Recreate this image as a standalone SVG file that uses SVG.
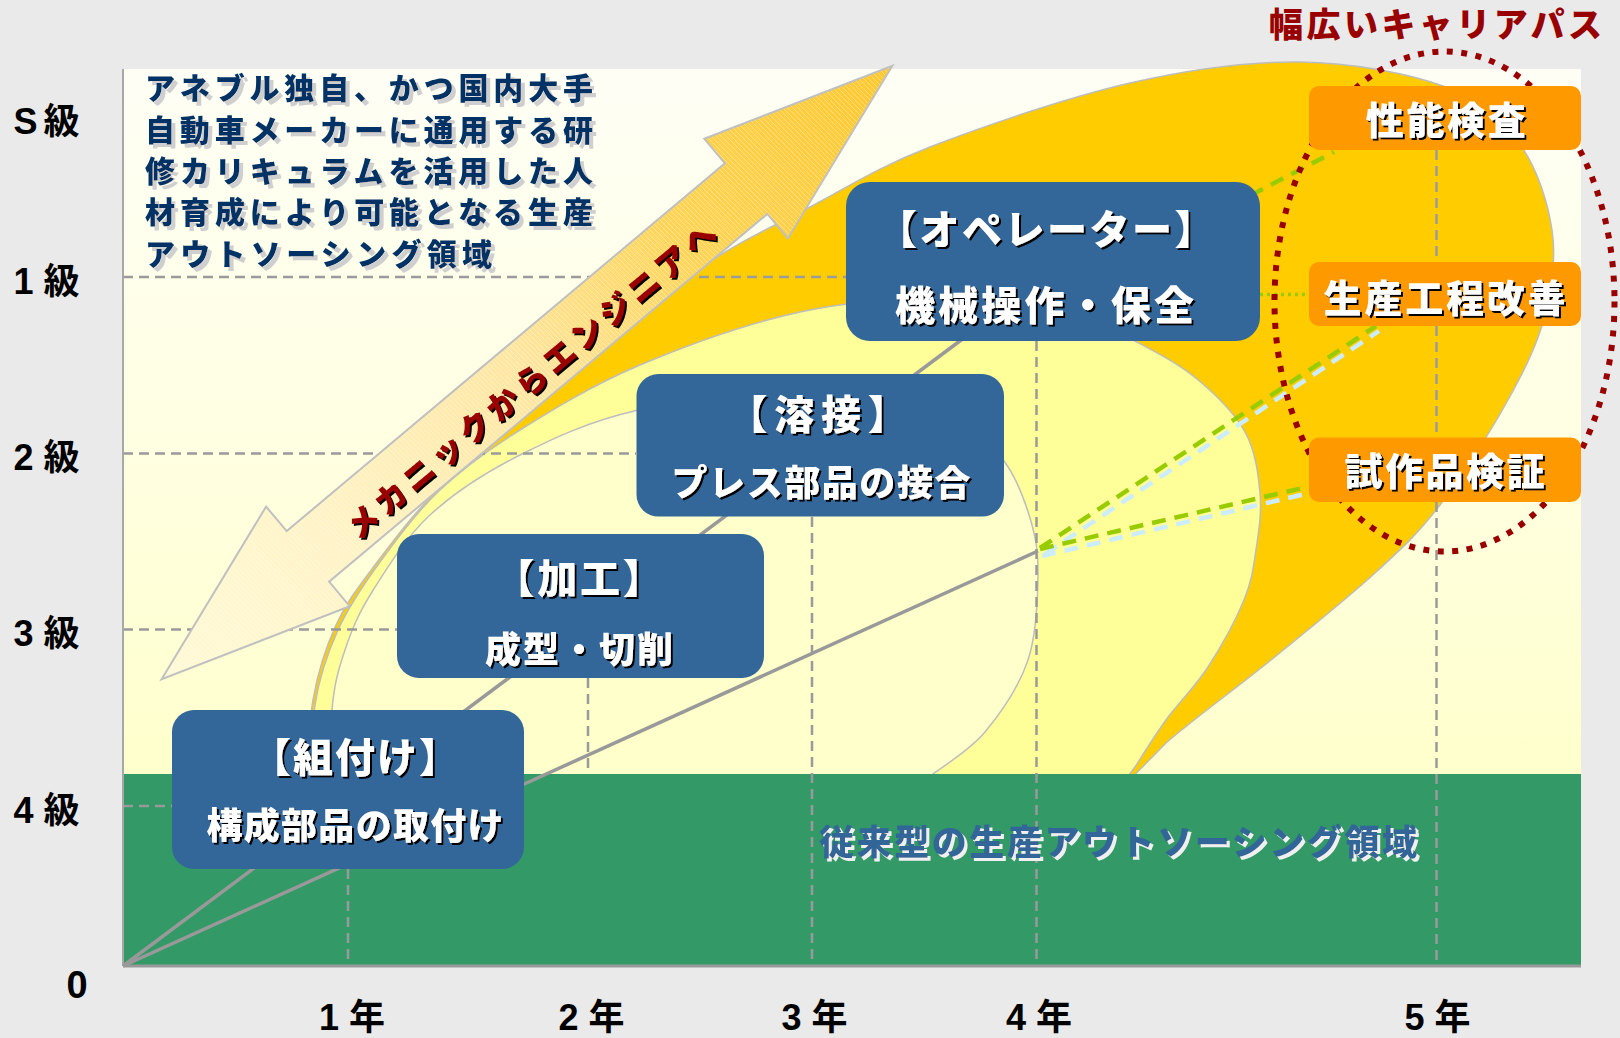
<svg xmlns="http://www.w3.org/2000/svg" width="1620" height="1038" viewBox="0 0 1620 1038">
<style>
.t{font-family:"Noto Sans CJK JP","Noto Sans CJK SC",sans-serif;font-weight:900}
.lat{font-family:"Liberation Sans","Noto Sans CJK JP",sans-serif;font-weight:700;fill:#000;text-anchor:middle}
.node rect{fill:#336699}
.nt{fill:#FFFFFF;text-anchor:middle}
.box rect{fill:#FF9900}
.grid{stroke:#9A9A9A;stroke-width:2.5;stroke-dasharray:10 6;fill:none}
.conn{stroke:#999999;stroke-width:3.5;fill:none}
.shape{stroke:#BDBDBD;stroke-width:1.5}
.fg{stroke:#99CC00;stroke-width:4.5;stroke-dasharray:14 9;fill:none}
.fb{stroke:#CCECFF;stroke-width:4.5;stroke-dasharray:14 9;fill:none}
.para{fill:#003366;font-size:30px}
</style>
<defs>
<linearGradient id="bgGrad" x1="0" y1="69" x2="0" y2="774" gradientUnits="userSpaceOnUse">
<stop offset="0" stop-color="#FEFEF5"/><stop offset="0.5" stop-color="#FFFFE3"/><stop offset="1" stop-color="#FFFFCC"/>
</linearGradient>
<linearGradient id="arrowGrad" x1="892" y1="66" x2="162" y2="679" gradientUnits="userSpaceOnUse">
<stop offset="0" stop-color="#FFC82E"/><stop offset="0.28" stop-color="#FFD455"/><stop offset="0.5" stop-color="#FFE6A0"/><stop offset="0.75" stop-color="#FFF3C4"/><stop offset="1" stop-color="#FFFAD6"/>
</linearGradient>
<pattern id="hatch" width="5" height="5" patternUnits="userSpaceOnUse">
<path d="M0,0 L5,5" stroke="#FFFFFF" stroke-width="0.8" stroke-opacity="0.45"/>
</pattern>
<filter id="shDark" x="-10%" y="-30%" width="120%" height="160%">
<feOffset in="SourceAlpha" dx="2" dy="2" result="o"/><feFlood flood-color="#000000"/><feComposite in2="o" operator="in" result="s"/>
<feMerge><feMergeNode in="s"/><feMergeNode in="SourceGraphic"/></feMerge>
</filter>
<filter id="shLight" x="-10%" y="-30%" width="120%" height="160%">
<feOffset in="SourceAlpha" dx="4" dy="4" result="o"/><feFlood flood-color="#CFCFCF"/><feComposite in2="o" operator="in" result="s"/>
<feMerge><feMergeNode in="s"/><feMergeNode in="SourceGraphic"/></feMerge>
</filter>
<filter id="shWhite" x="-10%" y="-30%" width="120%" height="160%">
<feOffset in="SourceAlpha" dx="3" dy="3" result="o"/><feFlood flood-color="#F0F0F0"/><feComposite in2="o" operator="in" result="s"/>
<feMerge><feMergeNode in="s"/><feMergeNode in="SourceGraphic"/></feMerge>
</filter>
</defs>

<rect x="0" y="0" width="1620" height="1038" fill="#EAEAEA"/>
<rect x="123" y="69" width="1458" height="897" fill="url(#bgGrad)"/>

<g id="regions">
<path class="shape" fill="#FFCC00" d="M306,800 C307.2,783.3 308,729.2 313,700 C318,670.8 325.7,647.5 336,625 C346.3,602.5 357.7,588 375,565 C392.3,542 409.2,518.7 440,487 C470.8,455.3 516.7,411.5 560,375 C603.3,338.5 658.3,296 700,268 C741.7,240 771.7,227.2 810,207 C848.3,186.8 876.7,167.7 930,147 C983.3,126.3 1068.3,97.2 1130,83 C1191.7,68.8 1247.3,61.3 1300,62 C1352.7,62.7 1409.5,73.5 1446,87 C1482.5,100.5 1501.3,119.2 1519,143 C1536.7,166.8 1547.7,201.3 1552,230 C1556.3,258.7 1552.3,286.7 1545,315 C1537.7,343.3 1525.5,368.3 1508,400 C1490.5,431.7 1462.2,476.2 1440,505 C1417.8,533.8 1403.2,547.2 1375,573 C1346.8,598.8 1305.8,631.7 1271,660 C1236.2,688.3 1192.8,719.7 1166,743 L1110,800 Z"/>
<path class="shape" fill="#FFFF99" d="M312,800 C312.5,784.2 310.7,733.3 315,705 C319.3,676.7 327.2,653.8 338,630 C348.8,606.2 363,585.3 380,562 C397,538.7 416.7,512 440,490 C463.3,468 486.7,450.8 520,430 C553.3,409.2 593.3,384.7 640,365 C686.7,345.3 748.3,323.2 800,312 C851.7,300.8 905,298 950,298 C995,298 1039.2,304.8 1070,312 C1100.8,319.2 1113.8,329.8 1135,341 C1156.2,352.2 1178.7,363.8 1197,379 C1215.3,394.2 1234.5,413 1245,432 C1255.5,451 1258.2,473.3 1260,493 C1261.8,512.7 1258.7,532.2 1256,550 C1253.3,567.8 1252,580.5 1244,600 C1236,619.5 1221,647 1208,667 C1195,687 1178.2,703.3 1166,720 C1153.8,736.7 1140.2,759.2 1135,767 L1110,800 Z"/>
<path class="shape" fill="#FFFFCC" d="M333,800 C332.8,785 330,735 332,710 C334,685 338.3,669.7 345,650 C351.7,630.3 357.8,614.5 372,592 C386.2,569.5 405.3,537.8 430,515 C454.7,492.2 485.3,472.5 520,455 C554.7,437.5 588,421.7 638,410 C688,398.3 768,385 820,385 C872,385 919.3,397.3 950,410 C980.7,422.7 990.7,443 1004,461 C1017.3,479 1024.3,499 1030,518 C1035.7,537 1038.3,551.3 1038,575 C1037.7,598.7 1036.8,633.8 1028,660 C1019.2,686.2 1000.8,713 985,732 C969.2,751 941.7,767 933,774 L905,800 Z"/>
<rect x="123" y="774" width="1458" height="192" fill="#339966"/>
</g>

<g id="grid">
<line class="grid" x1="123" y1="277" x2="846" y2="277"/>
<line class="grid" x1="123" y1="453.5" x2="636" y2="453.5"/>
<line class="grid" x1="123" y1="629.5" x2="397" y2="629.5"/>
<line class="grid" x1="123" y1="806" x2="172" y2="806"/>
<line class="grid" x1="348" y1="869" x2="348" y2="966"/>
<line class="grid" x1="588" y1="678" x2="588" y2="774"/>
<line class="grid" x1="812" y1="517" x2="812" y2="966"/>
<line class="grid" x1="1036.5" y1="341" x2="1036.5" y2="966"/>
<line class="grid" x1="1436.5" y1="150" x2="1436.5" y2="966"/>
</g>

<g id="axes">
<line x1="123" y1="69" x2="123" y2="966" stroke="#A8A8A8" stroke-width="2"/>
<line x1="123" y1="966" x2="1581" y2="966" stroke="#999999" stroke-width="3"/>
</g>

<g id="connectors">
<line class="conn" x1="123" y1="966" x2="1000" y2="311"/>
<line class="conn" x1="123" y1="966" x2="1038" y2="551"/>
<line class="fb" x1="1045" y1="554" x2="1379" y2="331"/>
<line class="fg" x1="1040" y1="548" x2="1376" y2="326"/>
<line class="fb" x1="1042" y1="556" x2="1305" y2="494"/>
<line class="fg" x1="1040" y1="549" x2="1307" y2="487"/>
<line class="fg" x1="1230" y1="206" x2="1334" y2="152"/>
<line x1="1260" y1="294.6" x2="1309" y2="294.6" stroke="#99CC00" stroke-width="3.5" stroke-dasharray="3 4"/>
</g>

<g id="career-ellipse">
<ellipse cx="1444.5" cy="301.5" rx="170" ry="250" fill="none" stroke="#990000" stroke-width="6" stroke-dasharray="6 8.5"/>
</g>

<g id="arrow">
<polygon points="892.4,65.8 787.9,238.4 767.3,213.9 329.1,581.7 349.7,606.2 161.6,679.2 266.1,506.6 286.7,531.1 724.9,163.3 704.3,138.8" fill="url(#arrowGrad)"/>
<polygon points="892.4,65.8 787.9,238.4 767.3,213.9 329.1,581.7 349.7,606.2 161.6,679.2 266.1,506.6 286.7,531.1 724.9,163.3 704.3,138.8" fill="url(#hatch)" stroke="#C0C0C0" stroke-width="2"/>
<g filter="url(#shDark)">
<text class="t" x="0" y="12" font-size="32" fill="#990000" text-anchor="middle" textLength="472" lengthAdjust="spacing" transform="translate(531,380) rotate(-40)">メカニックからエンジニアへ</text>
</g>
</g>

<g id="node-kumitsuke" class="node">
<rect x="172" y="710" width="352" height="159" rx="22"/>
<g filter="url(#shDark)">
<text class="t nt" x="356" y="772" font-size="40" letter-spacing="2">【組付け】</text>
<text class="t nt" x="355" y="838.7" font-size="36" textLength="297" lengthAdjust="spacing">構成部品の取付け</text>
</g>
</g>

<g id="node-kakou" class="node">
<rect x="397" y="534" width="367" height="144" rx="22"/>
<g filter="url(#shDark)">
<text class="t nt" x="580" y="593" font-size="40" letter-spacing="2.7">【加工】</text>
<text class="t nt" x="579" y="662.7" font-size="36" textLength="188" lengthAdjust="spacing">成型・切削</text>
</g>
</g>

<g id="node-yousetsu" class="node">
<rect x="636.5" y="374" width="367.5" height="142.6" rx="22"/>
<g filter="url(#shDark)">
<text class="t nt" x="821" y="429.2" font-size="40" letter-spacing="6.7">【溶接】</text>
<text class="t nt" x="821" y="495.7" font-size="36" textLength="299" lengthAdjust="spacing">プレス部品の接合</text>
</g>
</g>

<g id="node-operator" class="node">
<rect x="846" y="182" width="414" height="159" rx="24"/>
<g filter="url(#shDark)">
<text class="t nt" x="1047" y="243.8" font-size="40" letter-spacing="2.5">【オペレーター】</text>
<text class="t nt" x="1044.5" y="319.7" font-size="40" textLength="299" lengthAdjust="spacing">機械操作・保全</text>
</g>
</g>

<g id="box-seinou" class="box">
<rect x="1309" y="86" width="272" height="64" rx="10"/>
<g filter="url(#shDark)"><text class="t nt" x="1445.8" y="134.4" font-size="38" textLength="160" lengthAdjust="spacing">性能検査</text></g>
</g>
<g id="box-kaizen" class="box">
<rect x="1309" y="262" width="272" height="64" rx="10"/>
<g filter="url(#shDark)"><text class="t nt" x="1444.6" y="312.4" font-size="38" textLength="242" lengthAdjust="spacing">生産工程改善</text></g>
</g>
<g id="box-shisaku" class="box">
<rect x="1309" y="437.5" width="272" height="64.5" rx="10"/>
<g filter="url(#shDark)"><text class="t nt" x="1444.6" y="485.4" font-size="38" textLength="200" lengthAdjust="spacing">試作品検証</text></g>
</g>

<g id="labels">
<text class="t" x="1435.5" y="37" font-size="34" fill="#990000" text-anchor="middle" textLength="333" lengthAdjust="spacing">幅広いキャリアパス</text>
<g filter="url(#shLight)">
<text class="t para" x="145" y="99.3" textLength="448" lengthAdjust="spacing">アネブル独自、かつ国内大手</text>
<text class="t para" x="145" y="140.6" textLength="448" lengthAdjust="spacing">自動車メーカーに通用する研</text>
<text class="t para" x="145" y="181.9" textLength="448" lengthAdjust="spacing">修カリキュラムを活用した人</text>
<text class="t para" x="145" y="223.2" textLength="448" lengthAdjust="spacing">材育成により可能となる生産</text>
<text class="t para" x="145" y="264.5" textLength="347" lengthAdjust="spacing">アウトソーシング領域</text>
</g>
<g filter="url(#shWhite)">
<text class="t" x="1118" y="855" font-size="35" fill="#336699" text-anchor="middle" textLength="598" lengthAdjust="spacing">従来型の生産アウトソーシング領域</text>
</g>
<text class="lat" x="46.5" y="133.7" font-size="36" textLength="66" lengthAdjust="spacing">S級</text>
<text class="lat" x="46.5" y="293.5" font-size="36" textLength="66" lengthAdjust="spacing">1級</text>
<text class="lat" x="46.5" y="470" font-size="36" textLength="66" lengthAdjust="spacing">2級</text>
<text class="lat" x="46.5" y="646" font-size="36" textLength="66" lengthAdjust="spacing">3級</text>
<text class="lat" x="46.5" y="822.5" font-size="36" textLength="66" lengthAdjust="spacing">4級</text>
<text class="lat" x="77" y="997.5" font-size="38">0</text>
<text class="lat" x="352" y="1030" font-size="36" textLength="66" lengthAdjust="spacing">1年</text>
<text class="lat" x="591.5" y="1030" font-size="36" textLength="66" lengthAdjust="spacing">2年</text>
<text class="lat" x="814.5" y="1030" font-size="36" textLength="66" lengthAdjust="spacing">3年</text>
<text class="lat" x="1039" y="1030" font-size="36" textLength="66" lengthAdjust="spacing">4年</text>
<text class="lat" x="1437.5" y="1030" font-size="36" textLength="66" lengthAdjust="spacing">5年</text>
</g>
</svg>
